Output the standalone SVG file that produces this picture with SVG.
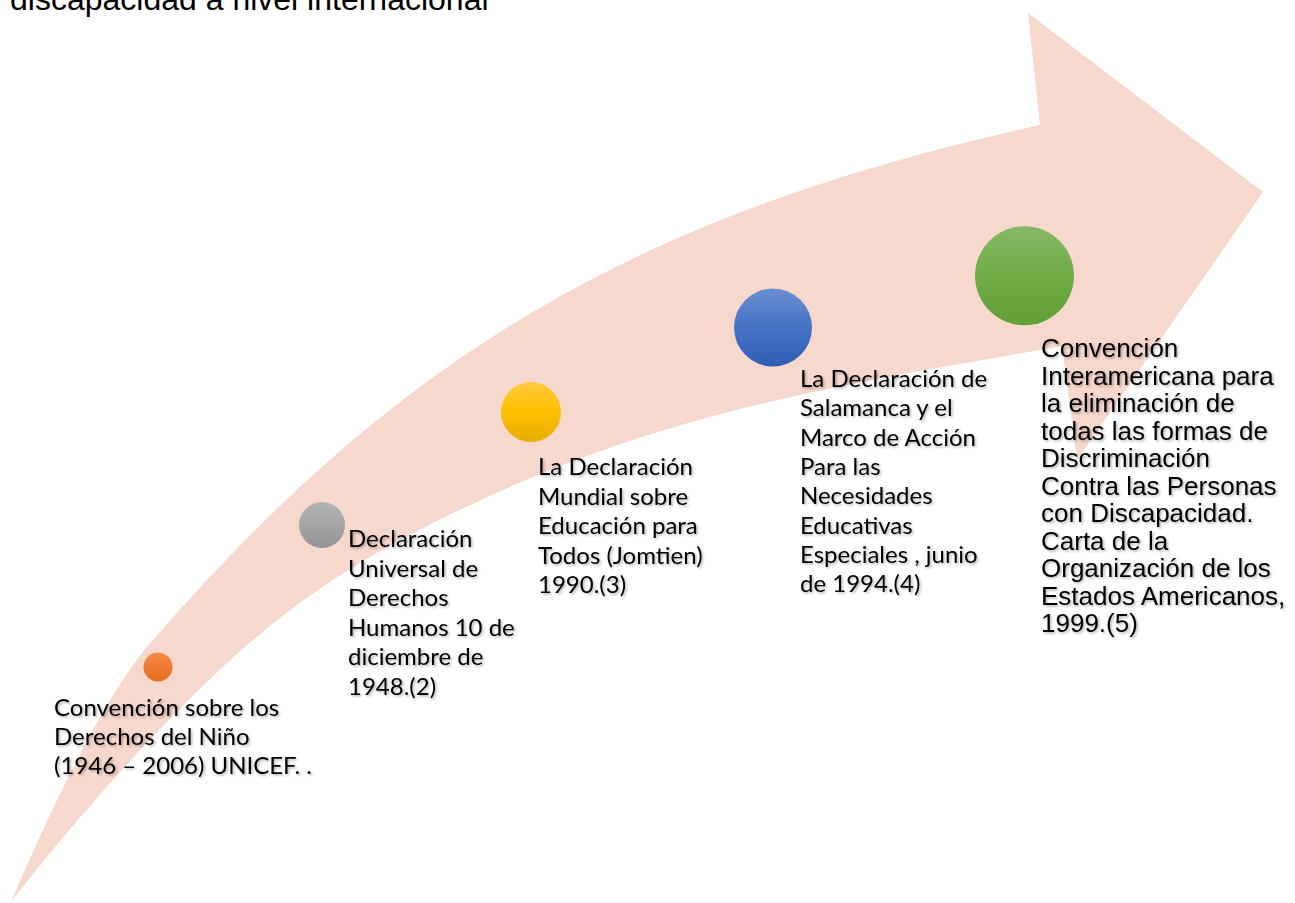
<svg xmlns="http://www.w3.org/2000/svg" width="1295" height="903" viewBox="0 0 1295 903">
<defs>
<style>
.cal{font-family:Lato,"Open Sans","Liberation Sans",sans-serif;font-size:24px;fill:#000;}
.ari{font-family:"Liberation Sans",Arial,sans-serif;font-size:26px;fill:#000;}
.ttl{font-family:"Liberation Sans",Arial,sans-serif;font-size:32px;fill:#000;}
</style>
<filter id="sh" x="-5%" y="-5%" width="110%" height="110%">
<feDropShadow dx="1.5" dy="1.5" stdDeviation="0.8" flood-color="#000" flood-opacity="0.3"/>
</filter>
<linearGradient id="gOr" x1="0" y1="0" x2="0" y2="1"><stop offset="0" stop-color="#F58D4A"/><stop offset="0.5" stop-color="#F07A30"/><stop offset="1" stop-color="#E06E22"/></linearGradient>
<linearGradient id="gGr" x1="0" y1="0" x2="0" y2="1"><stop offset="0" stop-color="#B3B3B3"/><stop offset="0.5" stop-color="#A5A5A5"/><stop offset="1" stop-color="#939393"/></linearGradient>
<linearGradient id="gYe" x1="0" y1="0" x2="0" y2="1"><stop offset="0" stop-color="#FFC93E"/><stop offset="0.5" stop-color="#FFC000"/><stop offset="1" stop-color="#E6AD00"/></linearGradient>
<linearGradient id="gBl" x1="0" y1="0" x2="0" y2="1"><stop offset="0" stop-color="#6C8ED0"/><stop offset="0.5" stop-color="#4472C4"/><stop offset="1" stop-color="#325FB5"/></linearGradient>
<linearGradient id="gGn" x1="0" y1="0" x2="0" y2="1"><stop offset="0" stop-color="#86B866"/><stop offset="0.5" stop-color="#70AD47"/><stop offset="1" stop-color="#629F38"/></linearGradient>
</defs>
<rect width="1295" height="903" fill="#FFFFFF"/>
<text class="ttl" x="10" y="10">discapacidad a nivel internacional</text>
<g id="arrow">
<path fill="#F7D8CD" d="M11,902 C46,820 103,696 153,640 C403,352.5 640,213 1040,125 L1028,13 L1263,192 L1077,460 L1062,346 C872,380 693,405 503,490 C418,528 338,568 253,640 C173,708 71,824 11,902 Z"/>
</g>
<g id="connectors"></g>
<g id="n1">
<circle cx="158" cy="667" r="14.5" fill="url(#gOr)"/>
<text class="cal" filter="url(#sh)"><tspan x="54" y="716">Convención sobre los</tspan><tspan x="54" y="745">Derechos del Niño</tspan><tspan x="54" y="774">(1946 – 2006) UNICEF. .</tspan></text>
</g>
<g id="n2">
<circle cx="322" cy="525" r="23" fill="url(#gGr)"/>
<text class="cal" filter="url(#sh)"><tspan x="348" y="547">Declaración</tspan><tspan x="348" y="576.5">Universal de</tspan><tspan x="348" y="606">Derechos</tspan><tspan x="348" y="635.5">Humanos 10 de</tspan><tspan x="348" y="665">diciembre de</tspan><tspan x="348" y="694.5">1948.(2)</tspan></text>
</g>
<g id="n3">
<circle cx="531" cy="412" r="30" fill="url(#gYe)"/>
<text class="cal" filter="url(#sh)"><tspan x="538" y="475">La Declaración</tspan><tspan x="538" y="504.5">Mundial sobre</tspan><tspan x="538" y="534">Educación para</tspan><tspan x="538" y="563.5">Todos (Jomtien)</tspan><tspan x="538" y="593">1990.(3)</tspan></text>
</g>
<g id="n4">
<circle cx="773" cy="327.5" r="39" fill="url(#gBl)"/>
<text class="cal" filter="url(#sh)"><tspan x="800" y="387">La Declaración de</tspan><tspan x="800" y="416.3">Salamanca y el</tspan><tspan x="800" y="445.6">Marco de Acción</tspan><tspan x="800" y="474.9">Para las</tspan><tspan x="800" y="504.2">Necesidades</tspan><tspan x="800" y="533.5">Educativas</tspan><tspan x="800" y="562.8">Especiales , junio</tspan><tspan x="800" y="592.1">de 1994.(4)</tspan></text>
</g>
<g id="n5">
<circle cx="1024.5" cy="275.7" r="49.5" fill="url(#gGn)"/>
<text class="ari" filter="url(#sh)"><tspan x="1041" y="357">Convención</tspan><tspan x="1041" y="384.5">Interamericana para</tspan><tspan x="1041" y="412">la eliminación de</tspan><tspan x="1041" y="439.5">todas las formas de</tspan><tspan x="1041" y="467">Discriminación</tspan><tspan x="1041" y="494.5">Contra las Personas</tspan><tspan x="1041" y="522">con Discapacidad.</tspan><tspan x="1041" y="549.5">Carta de la</tspan><tspan x="1041" y="577">Organización de los</tspan><tspan x="1041" y="604.5">Estados Americanos,</tspan><tspan x="1041" y="632">1999.(5)</tspan></text>
</g>
</svg>
